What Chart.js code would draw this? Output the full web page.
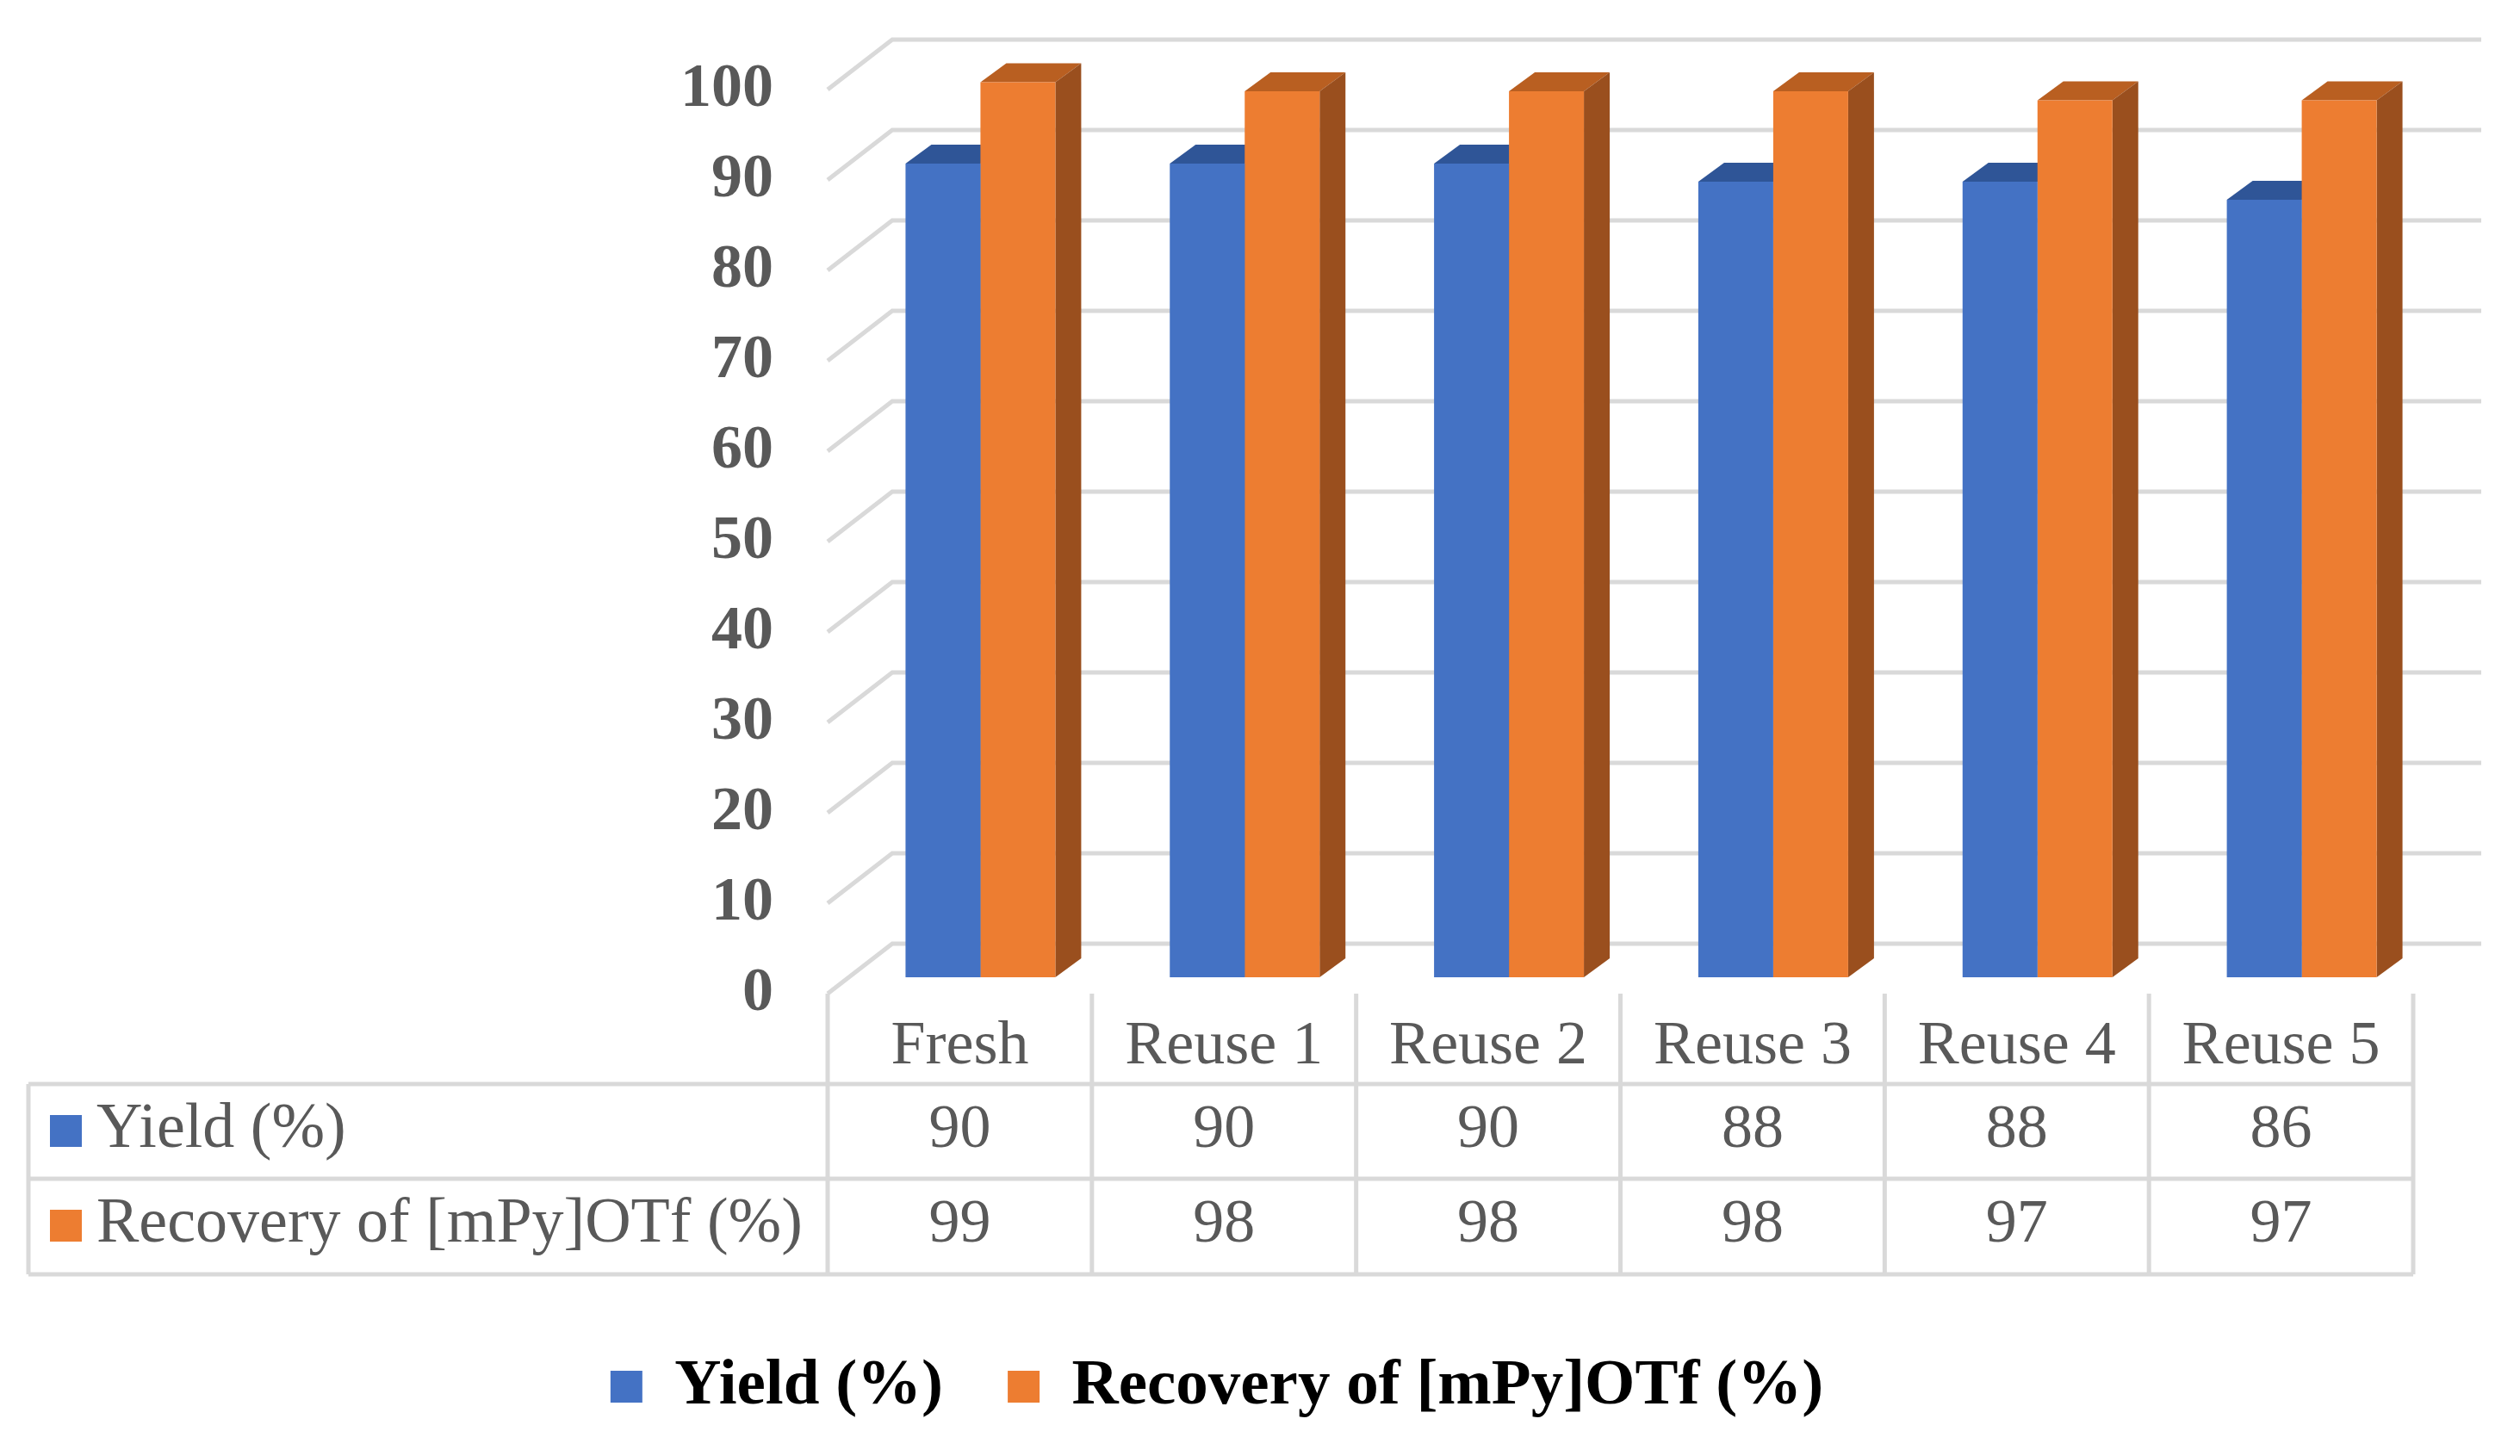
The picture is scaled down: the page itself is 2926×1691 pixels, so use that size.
<!DOCTYPE html>
<html>
<head>
<meta charset="utf-8">
<script src="https://cdn.jsdelivr.net/npm/chart.js@4.4.1/dist/chart.umd.min.js"></script>
<style>
  html, body { margin: 0; padding: 0; background: #fff; }
  #wrap { width: 2926px; height: 1691px; position: relative; }
</style>
</head>
<body>
<div id="wrap"><canvas id="reuseChart"></canvas></div>
<script>
// data
const categories = ['Fresh', 'Reuse 1', 'Reuse 2', 'Reuse 3', 'Reuse 4', 'Reuse 5'];
const yieldValues = [90, 90, 90, 88, 88, 86];
const recoveryValues = [99, 98, 98, 98, 97, 97];
const seriesNames = ['Yield (%)', 'Recovery of [mPy]OTf (%)'];
const yTickMin = 0, yTickMax = 100, yTickStep = 10;

const SERIF = "'Liberation Serif', 'Times New Roman', serif";
const GRID = '#d9d9d9';
const TEXT = '#595959';

// fake 3D offsets
const DX = 30, DY = 22;              // bar depth
const FRONT_DX = -24, FRONT_DY = 19; // front edge of floor/walls
const BACK_DX = 51, BACK_DY = -39;   // back wall

const faceColors = [
  { top: '#2f5597', side: '#2f5597' },
  { top: '#b95f21', side: '#9a4f1e' }
];

// back wall grid + top/side faces of bars (front faces are drawn by chart.js afterwards)
const depthPlugin = {
  id: 'depth3d',
  beforeDatasetsDraw(chart) {
    const ctx = chart.ctx, area = chart.chartArea, ys = chart.scales.y;
    ctx.save();
    ctx.strokeStyle = GRID;
    ctx.lineWidth = 5;
    for (let v = yTickMin; v <= yTickMax; v += yTickStep) {
      const py = ys.getPixelForValue(v);
      ctx.beginPath();
      ctx.moveTo(area.left + FRONT_DX, py + FRONT_DY);
      ctx.lineTo(area.left + BACK_DX, py + BACK_DY);
      ctx.lineTo(area.right + 55, py + BACK_DY);
      ctx.stroke();
    }
    chart.data.datasets.forEach((ds, di) => {
      const meta = chart.getDatasetMeta(di);
      meta.data.forEach(bar => {
        const p = bar.getProps(['x', 'y', 'base', 'width'], true);
        const l = p.x - p.width / 2, r = p.x + p.width / 2;
        ctx.fillStyle = faceColors[di].top;
        ctx.beginPath();
        ctx.moveTo(l, p.y);
        ctx.lineTo(l + DX, p.y - DY);
        ctx.lineTo(r + DX, p.y - DY);
        ctx.lineTo(r, p.y);
        ctx.closePath();
        ctx.fill();
        ctx.fillStyle = faceColors[di].side;
        ctx.beginPath();
        ctx.moveTo(r, p.y);
        ctx.lineTo(r + DX, p.y - DY);
        ctx.lineTo(r + DX, p.base - DY);
        ctx.lineTo(r, p.base);
        ctx.closePath();
        ctx.fill();
      });
    });
    ctx.restore();
  }
};

// data table under the plot
const tablePlugin = {
  id: 'dataTable',
  afterDraw(chart) {
    const ctx = chart.ctx, area = chart.chartArea;
    const xs = chart.scales.x, ys = chart.scales.y;
    const base = ys.getPixelForValue(0);
    const colW = (area.right - area.left) / categories.length;
    const left0 = area.left + FRONT_DX;
    const right0 = left0 + categories.length * colW;
    const rowTop = base + FRONT_DY, line1 = base + 124, line2 = base + 234, bottom = base + 345;
    const tableLeft = 33;

    ctx.save();
    ctx.strokeStyle = GRID;
    ctx.lineWidth = 5;
    ctx.beginPath();
    [line1, line2, bottom].forEach(yy => { ctx.moveTo(tableLeft, yy); ctx.lineTo(right0, yy); });
    ctx.moveTo(tableLeft, line1); ctx.lineTo(tableLeft, bottom);
    for (let i = 0; i <= categories.length; i++) {
      const xx = left0 + i * colW;
      ctx.moveTo(xx, rowTop); ctx.lineTo(xx, bottom);
    }
    ctx.stroke();

    ctx.fillStyle = TEXT;
    ctx.font = '72px ' + SERIF;
    ctx.textAlign = 'center';
    ctx.textBaseline = 'middle';
    categories.forEach((c, i) => {
      ctx.fillText(c, xs.getPixelForValue(i) + FRONT_DX, base + 81);
    });

    const rows = [
      { values: yieldValues, y: base + 178 },
      { values: recoveryValues, y: base + 288 }
    ];
    rows.forEach((row, ri) => {
      const ds = chart.data.datasets[ri];
      ctx.fillStyle = ds.backgroundColor;
      ctx.fillRect(58, row.y - 18, 37, 37);
      ctx.fillStyle = TEXT;
      ctx.textAlign = 'left';
      ctx.font = '74px ' + SERIF;
      ctx.fillText(ds.label, 112, row.y);
      ctx.textAlign = 'center';
      ctx.font = '72px ' + SERIF;
      row.values.forEach((v, i) => {
        ctx.fillText(String(v), xs.getPixelForValue(i) + FRONT_DX, row.y);
      });
    });
    ctx.restore();
  }
};

document.addEventListener('DOMContentLoaded', function() {
  const ctx = document.getElementById('reuseChart').getContext('2d');
  new Chart(ctx, {
    type: 'bar',
    data: {
      labels: categories,
      datasets: [
        { label: seriesNames[0], data: yieldValues, backgroundColor: '#4472c4', borderWidth: 0 },
        { label: seriesNames[1], data: recoveryValues, backgroundColor: '#ed7d31', borderWidth: 0 }
      ]
    },
    options: {
      responsive: true,
      maintainAspectRatio: false,
      devicePixelRatio: 1,
      animation: false,
      layout: { padding: { top: 85, right: 100, bottom: 33, left: 0 } },
      datasets: { bar: { categoryPercentage: 0.567, barPercentage: 1.0 } },
      scales: {
        x: {
          grid: { display: false },
          border: { display: false },
          ticks: { display: false },
          afterFit(scale) { scale.height = 363; }
        },
        y: {
          min: yTickMin,
          max: yTickMax,
          // tick marks are not drawn, the length only pushes labels left
          grid: { display: false, drawTicks: true, tickLength: 87 },
          border: { display: false },
          ticks: {
            stepSize: yTickStep,
            padding: 0,
            labelOffset: FRONT_DY,
            color: TEXT,
            font: { family: SERIF, size: 72, weight: 'bold' }
          },
          afterFit(scale) {
            scale.width = 985;
            scale.paddingTop = 0;
            scale.paddingBottom = 0;
          }
        }
      },
      plugins: {
        tooltip: { enabled: false },
        legend: {
          position: 'bottom',
          labels: {
            boxWidth: 37,
            boxHeight: 37,
            padding: 75,
            color: '#000',
            font: { family: SERIF, size: 75, weight: 'bold' }
          }
        }
      }
    },
    plugins: [depthPlugin, tablePlugin]
  });
});
</script>
</body>
</html>
